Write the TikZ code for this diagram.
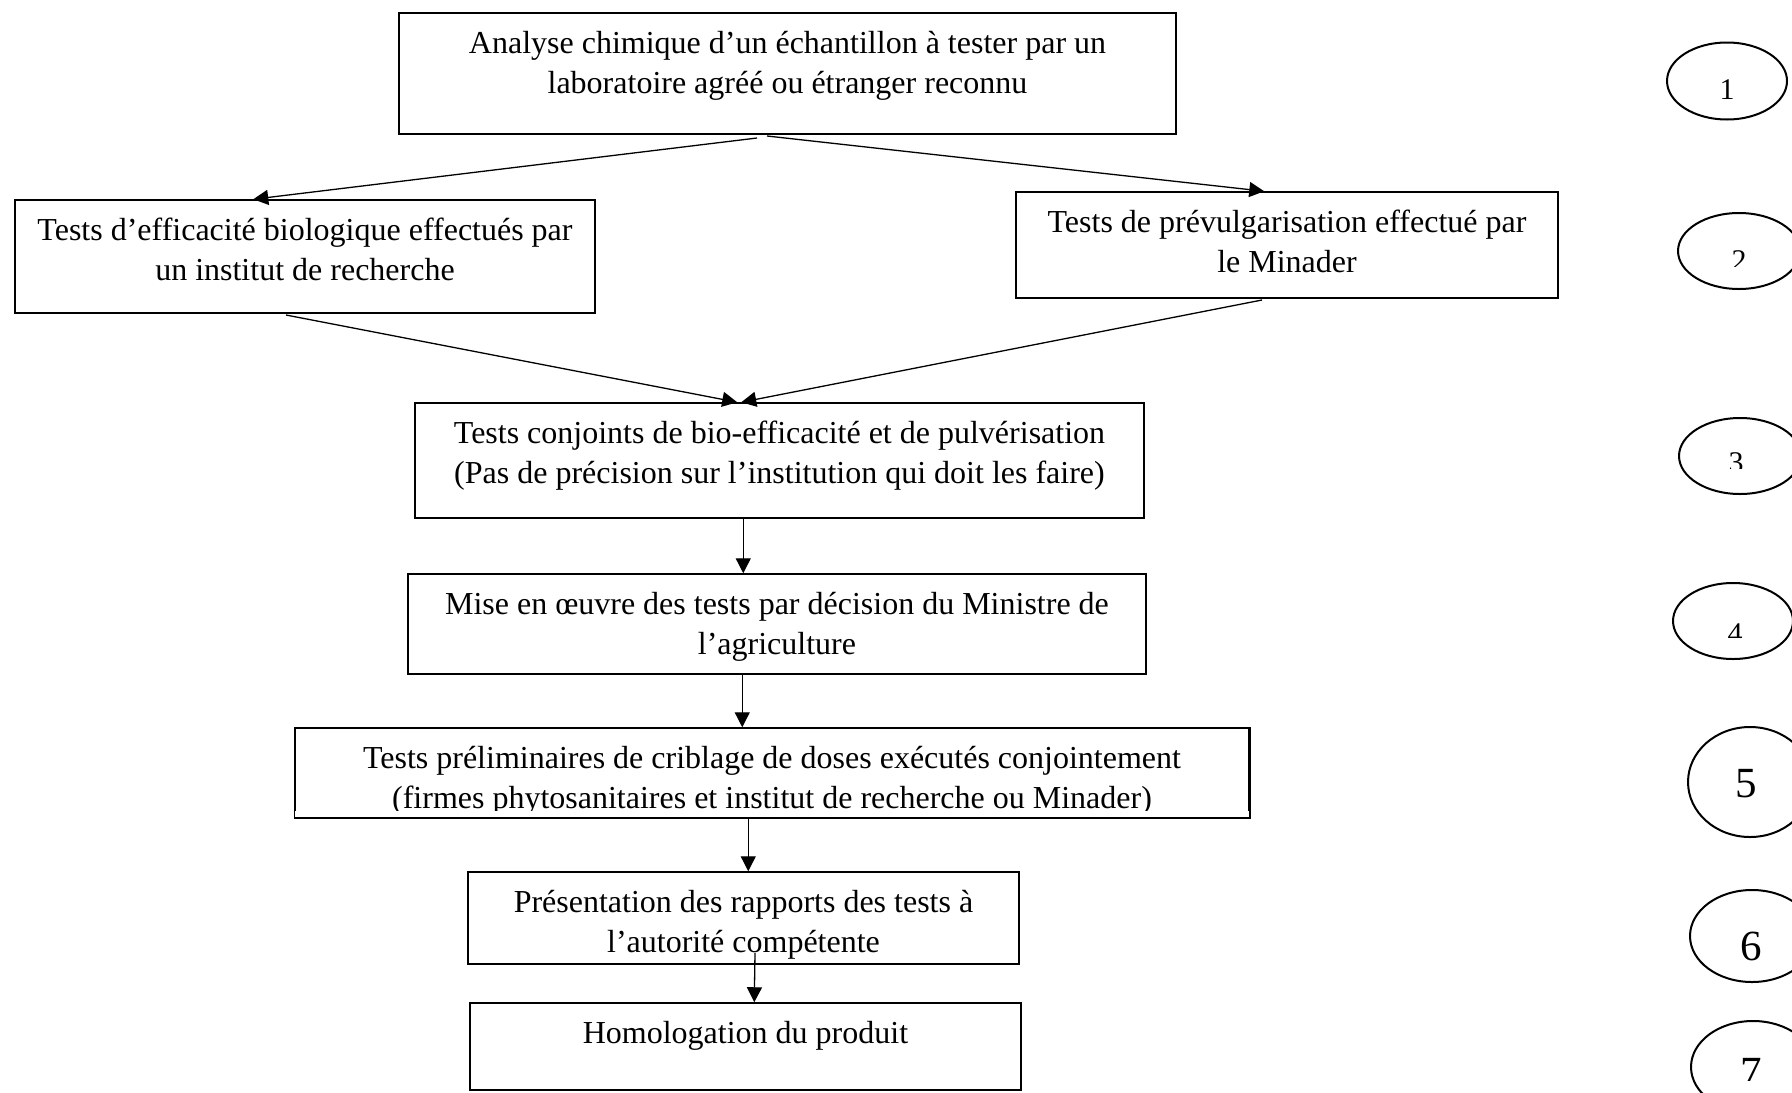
\documentclass[tikz,border=0pt]{standalone}
\usepackage{fontspec}
\setmainfont{Liberation Serif}
\usetikzlibrary{arrows.meta,calc,shapes.geometric}
\tikzset{
  stepbox/.style={draw, line width=0.75pt, inner sep=0pt},
  arr/.style={line width=0.65pt, -{Triangle[length=7.5pt,width=7.5pt]}},
  oval/.style={draw, ellipse, line width=1pt, inner sep=0pt},
  digit/.style={inner sep=0pt, anchor=base, font=\fontsize{15pt}{18pt}\selectfont},
  bigdigit/.style={digit, font=\fontsize{21.5pt}{24pt}\selectfont},
}
\newcommand{\boxtext}[3]{\parbox[c][#2][t]{#1}{\centering\fontsize{16pt}{20pt}\selectfont\rule{0pt}{20pt}#3\par}}
\begin{document}
\begin{tikzpicture}[x=0.5pt,y=-0.5pt]
\useasboundingbox (0,0) rectangle (1792,1092);
\fill[white] (0,0) rectangle (1792,1092);
\clip (0,0) rectangle (1792,1092);

% boxes
\node[stepbox] (b1) at (787.5,73.5) {\boxtext{388.5pt}{60.5pt}{Analyse chimique d’un échantillon à tester par un\\laboratoire agréé ou étranger reconnu}};
\node[stepbox] (b2l) at (305,256.5) {\boxtext{290pt}{56.5pt}{Tests d’efficacité biologique effectués par\\un institut de recherche}};
\node[stepbox] (b2r) at (1287,245) {\boxtext{271pt}{53pt}{Tests de prévulgarisation effectué par\\le Minader}};
\node[stepbox] (b3) at (779.5,460.5) {\boxtext{364.5pt}{57.5pt}{Tests conjoints de bio-efficacité et de pulvérisation\\(Pas de précision sur l’institution qui doit les faire)}};
\node[stepbox] (b4) at (777,624) {\boxtext{369pt}{50pt}{Mise en œuvre des tests par décision du Ministre de\\l’agriculture}};
\begin{scope}
  \clip (280,700) rectangle (1260,810);
  \node[stepbox] (b5) at (772,772.5) {\boxtext{477pt}{44.5pt}{Tests préliminaires de criblage de doses exécutés conjointement\\(firmes phytosanitaires et institut de recherche ou Minader)}};
\end{scope}
\draw[line width=0.75pt] (b5.south west) rectangle (b5.north east);
\node[stepbox] (b6) at (743.5,918) {\boxtext{275.5pt}{46pt}{Présentation des rapports des tests à\\l’autorité compétente}};
\node[stepbox] (b7) at (745.5,1046.5) {\boxtext{275.5pt}{43.5pt}{Homologation du produit}};

% connectors
\coordinate (s1) at (757,138);
\coordinate (s2) at (767,136);
\draw[arr] (s1) -- ($(b2l.north west)+(239,0)$);
\draw[arr] (s2) -- ($(b2r.north west)+(249,0)$);
\coordinate (s3) at (286,315);
\coordinate (s4) at (1262,300);
\draw[arr] (s3) -- ($(b3.north west)+(323,0)$);
\draw[arr] (s4) -- ($(b3.north west)+(327,0)$);
\draw[arr] ($(b3.south west)+(329,0)$) -- ($(b4.north west)+(336,0)$);
\draw[arr] ($(b4.south west)+(335,0)$) -- ($(b5.north west)+(448,0)$);
\draw[arr] ($(b5.south west)+(454,0)$) -- ($(b6.north west)+(281,0)$);
\coordinate (s8) at (755,953);
\draw[arr] (s8) -- ($(b7.north west)+(285,0)$);

% numbered ovals
\node[oval, minimum width=60pt, minimum height=38.5pt] (e1) at (1727,81) {};
\node[oval, minimum width=61pt, minimum height=38pt] (e2) at (1739,251) {};
\node[oval, minimum width=61pt, minimum height=38pt] (e3) at (1740,456) {};
\node[oval, minimum width=60pt, minimum height=38pt] (e4) at (1733,621) {};
\node[oval, minimum width=62pt, minimum height=55pt] (e5) at (1750,782) {};
\node[oval, minimum width=62pt, minimum height=46pt] (e6) at (1752,936) {};
\node[oval, minimum width=62pt, minimum height=46pt] (e7) at (1753,1067) {};

\node[digit] (d1) at (1727,99) {1};
\begin{scope}\clip (1700,230) rectangle (1780,266);
  \node[digit] (d2) at (1739,270) {2};
\end{scope}
\begin{scope}\clip (1700,430) rectangle (1780,468);
  \node[digit] (d3) at (1736,472) {3};
\end{scope}
\begin{scope}\clip (1700,600) rectangle (1780,637);
  \node[digit] (d4) at (1735,643) {4};
\end{scope}
\node[bigdigit] (d5) at (1746,797) {5};
\node[bigdigit] (d6) at (1751,960) {6};
\begin{scope}\clip (1700,1040) rectangle (1792,1080);
  \node[bigdigit] (d7) at (1751,1086) {7};
\end{scope}
\end{tikzpicture}
\end{document}
